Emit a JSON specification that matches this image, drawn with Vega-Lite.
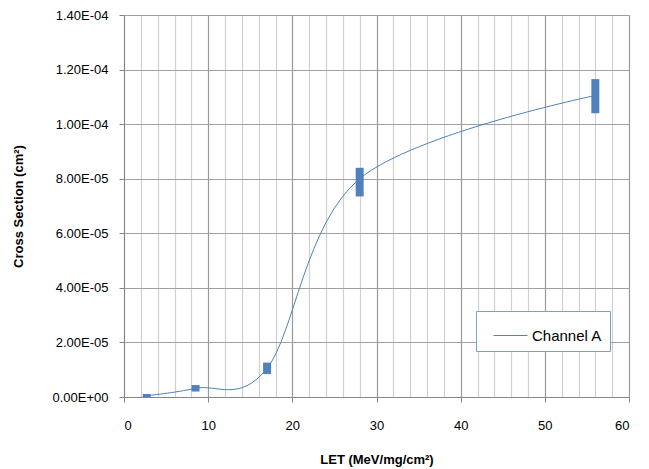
{
  "$schema": "https://vega.github.io/schema/vega-lite/v6.json",
  "autosize": "none",
  "width": 505,
  "height": 382,
  "padding": {"left": 124, "top": 15, "right": 20, "bottom": 72},
  "background": "white",
  "config": {
    "view": {"stroke": null},
    "font": "Liberation Sans",
    "axis": {
      "labelFont": "Liberation Sans",
      "titleFont": "Liberation Sans",
      "labelFontSize": 13,
      "titleFontSize": 13,
      "labelColor": "#000000",
      "titleColor": "#000000",
      "domainColor": "#868686",
      "tickColor": "#868686",
      "tickSize": 5,
      "labelOverlap": false
    }
  },
  "data": {
    "values": [
      {"let": 2.7, "cs": 0.0000005, "lo": 0, "hi": 0.0000011},
      {"let": 8.5, "cs": 0.0000032, "lo": 0.000002, "hi": 0.0000044},
      {"let": 17, "cs": 0.0000105, "lo": 0.0000084, "hi": 0.0000126},
      {"let": 28, "cs": 0.00008, "lo": 0.0000735, "hi": 0.000084},
      {"let": 56, "cs": 0.0001105, "lo": 0.000104, "hi": 0.0001165}
    ]
  },
  "encoding": {
    "x": {
      "field": "let", "type": "quantitative",
      "scale": {"domain": [0, 60], "nice": false},
      "axis": {
        "title": "LET (MeV/mg/cm²)",
        "titleFontWeight": "bold",
        "values": [0,2,4,6,8,10,12,14,16,18,20,22,24,26,28,30,32,34,36,38,40,42,44,46,48,50,52,54,56,58,60],
        "labelExpr": "datum.value % 10 === 0 ? datum.label : ''",
        "tickOpacity": {"condition": {"test": "datum.value % 10 === 0", "value": 1}, "value": 0},
        "grid": true,
        "gridColor": {"condition": {"test": "datum.value % 10 === 0", "value": "#9a9a9a"}, "value": "#d0d0d0"},
        "gridWidth": 1.2,
        "labelPadding": 17,
        "titlePadding": 21
      }
    }
  },
  "layer": [
    {
      "mark": {"type": "line", "interpolate": "cardinal", "strokeWidth": 1},
      "encoding": {
        "y": {
          "field": "cs", "type": "quantitative",
          "scale": {"domain": [0, 0.00014], "nice": false},
          "axis": {
            "title": "Cross Section (cm²)",
            "titleFontWeight": "bold",
            "values": [0, 0.00002, 0.00004, 0.00006, 0.00008, 0.0001, 0.00012, 0.00014],
            "labelExpr": "replace(replace(upper(format(datum.value, '.2e')), 'E-', 'E-0'), 'E+', 'E+0')",
            "grid": true,
            "gridColor": "#a0a0a0",
            "gridWidth": 1.2,
            "labelPadding": 11,
            "titlePadding": 26
          }
        },
        "color": {
          "datum": "Channel A",
          "type": "nominal",
          "scale": {"range": ["#4F81BD"]},
          "legend": {
            "title": null,
            "orient": "none",
            "legendX": 352,
            "legendY": 296,
            "symbolType": "stroke",
            "symbolSize": 1156,
            "symbolStrokeWidth": 1,
            "symbolOffset": 10,
            "labelFont": "Liberation Sans",
            "labelFontSize": 15,
            "labelColor": "#000000",
            "labelOffset": 4,
            "labelExpr": "datum.label + '  '",
            "padding": 7,
            "strokeColor": "#7a9fd0",
            "fillColor": "white"
          }
        }
      }
    },
    {
      "mark": {"type": "rule", "strokeWidth": 8, "color": "#4F81BD"},
      "encoding": {
        "y": {
          "field": "lo", "type": "quantitative",
          "scale": {"domain": [0, 0.00014], "nice": false},
          "axis": {
            "title": "Cross Section (cm²)",
            "titleFontWeight": "bold",
            "values": [0, 0.00002, 0.00004, 0.00006, 0.00008, 0.0001, 0.00012, 0.00014],
            "labelExpr": "replace(replace(upper(format(datum.value, '.2e')), 'E-', 'E-0'), 'E+', 'E+0')",
            "grid": true,
            "gridColor": "#a0a0a0",
            "gridWidth": 1.2,
            "labelPadding": 11,
            "titlePadding": 26
          }
        },
        "y2": {"field": "hi"}
      }
    }
  ]
}
